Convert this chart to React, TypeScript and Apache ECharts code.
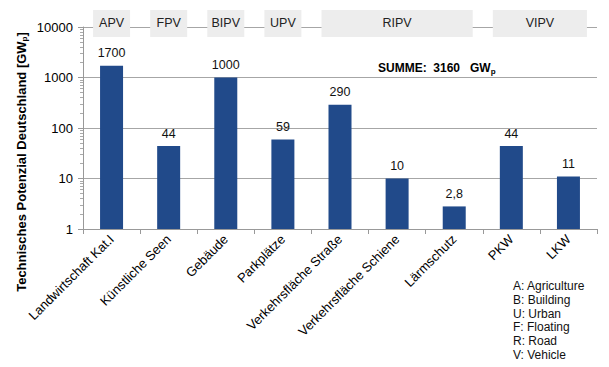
import React, { useEffect, useRef } from "react";
import * as echarts from "echarts";

const categories = [
  "Landwirtschaft Kat.I",
  "Künstliche Seen",
  "Gebäude",
  "Parkplätze",
  "Verkehrsfläche Straße",
  "Verkehrsfläche Schiene",
  "Lärmschutz",
  "PKW",
  "LKW",
];
const values = [1700, 44, 1000, 59, 290, 10, 2.8, 44, 11];
const groupLabels = ["APV", "FPV", "BIPV", "UPV", "RIPV", "VIPV"];
const groupStart = [0, 1, 2, 3, 4, 7];
const groupEnd = [0, 1, 2, 3, 6, 8];
const legendLines = [
  "A: Agriculture",
  "B: Building",
  "U: Urban",
  "F: Floating",
  "R: Road",
  "V: Vehicle",
];
const yMin = 1;
const yMax = 10000;
const FONT = "'Liberation Sans', Arial, sans-serif";

export default function App() {
  const ref = useRef<HTMLDivElement>(null);
  useEffect(() => {
    if (!ref.current) return;
    const chart = echarts.init(ref.current, undefined, { renderer: "svg" });
    chart.setOption({
      animation: false,
      textStyle: { fontFamily: FONT },
      grid: { left: 83, right: 12, top: 27, bottom: 138 },
      xAxis: {
        type: "category",
        data: categories,
        axisLine: { lineStyle: { color: "#999999" } },
        axisTick: { show: true, length: 5, lineStyle: { color: "#999999" } },
        axisLabel: {
          rotate: 45,
          interval: 0,
          color: "#000000",
          fontSize: 13,
          fontFamily: FONT,
          margin: 8,
        },
      },
      yAxis: {
        type: "log",
        logBase: 10,
        min: yMin,
        max: yMax,
        axisLine: { show: true, lineStyle: { color: "#999999" } },
        axisTick: { show: true, length: 5, lineStyle: { color: "#999999" } },
        minorTick: { show: true, splitNumber: 9, length: 3, lineStyle: { color: "#aaaaaa" } },
        splitLine: { show: true, lineStyle: { color: "#a6a6a6", width: 1 } },
        axisLabel: {
          color: "#000000",
          fontSize: 13,
          fontFamily: FONT,
          margin: 10,
          formatter: (v: number) => String(v),
        },
      },
      series: [
        {
          type: "bar",
          data: values,
          barWidth: 23,
          itemStyle: { color: "#214a8a" },
          label: {
            show: true,
            position: "top",
            distance: 6,
            color: "#111111",
            fontSize: 12.5,
            fontFamily: FONT,
            formatter: (p: any) => String(p.value).replace(".", ","),
          },
        },
      ],
    });

    const yTop = chart.convertToPixel({ yAxisIndex: 0 }, yMax) as number;
    const gfx: any[] = [];
    groupLabels.forEach((lab, i) => {
      const x0 = (chart.convertToPixel({ xAxisIndex: 0 }, categories[groupStart[i]]) as number) - 18.5;
      const x1 = (chart.convertToPixel({ xAxisIndex: 0 }, categories[groupEnd[i]]) as number) + 18.5;
      gfx.push({
        type: "rect",
        shape: { x: x0, y: yTop - 17, width: x1 - x0, height: 27 },
        style: { fill: "#ededed" },
        z: 10,
      });
      gfx.push({
        type: "text",
        x: (x0 + x1) / 2,
        y: yTop - 4,
        style: {
          text: lab,
          fill: "#222222",
          font: `12.5px ${FONT}`,
          align: "center",
          verticalAlign: "middle",
        },
        z: 11,
      });
    });
    gfx.push({
      type: "text",
      x: 21,
      y: 162,
      rotation: Math.PI / 2,
      style: {
        text: "{a|Technisches Potenzial Deutschland [GW}{s|p}{a|]}",
        align: "center",
        verticalAlign: "middle",
        rich: {
          a: { fontSize: 13, fontWeight: "bold", fontFamily: FONT, fill: "#000", color: "#000", lineHeight: 15 },
          s: { fontSize: 8, fontWeight: "bold", fontFamily: FONT, fill: "#000", color: "#000", lineHeight: 15, verticalAlign: "bottom" },
        },
      },
      z: 11,
    });
    gfx.push({
      type: "text",
      x: 378,
      y: 68,
      style: {
        text: "{a|SUMME:  3160   GW}{s|p}",
        align: "left",
        verticalAlign: "middle",
        rich: {
          a: { fontSize: 12, fontWeight: "bold", fontFamily: FONT, fill: "#000", color: "#000", lineHeight: 14 },
          s: { fontSize: 8, fontWeight: "bold", fontFamily: FONT, fill: "#000", color: "#000", lineHeight: 14, verticalAlign: "bottom" },
        },
      },
      z: 11,
    });
    legendLines.forEach((t, i) => {
      gfx.push({
        type: "text",
        x: 513,
        y: 286 + i * 13.8,
        style: {
          text: t,
          fill: "#111111",
          font: `12px ${FONT}`,
          align: "left",
          verticalAlign: "middle",
        },
        z: 11,
      });
    });
    chart.setOption({ graphic: gfx });

    return () => chart.dispose();
  }, []);
  return <div ref={ref} style={{ width: 609, height: 367, position: "absolute", left: 0, top: 0, background: "#fff" }} />;
}
